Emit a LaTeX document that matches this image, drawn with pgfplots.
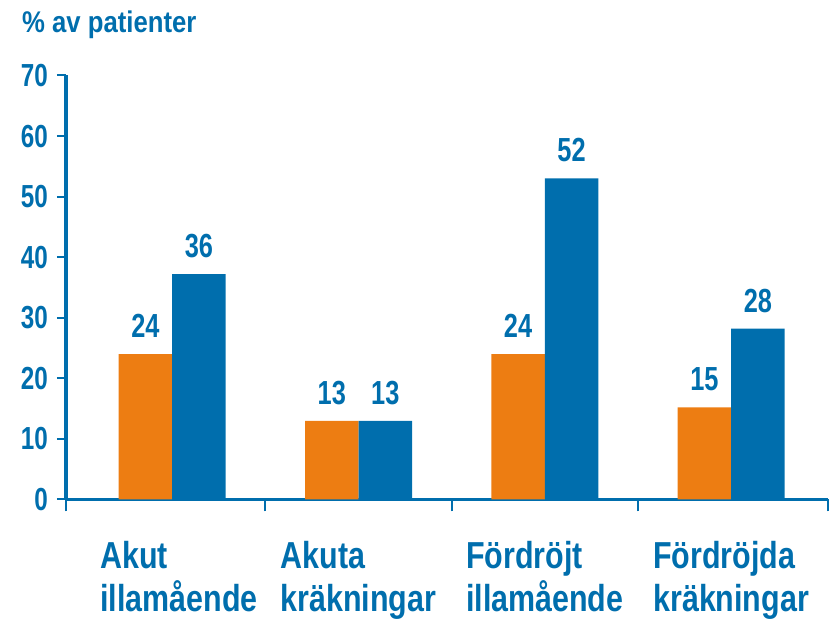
\documentclass[border=0pt]{standalone}
\usepackage{fontspec}
\setmainfont{Liberation Sans}
\newfontfamily\numfont[FakeStretch=0.76]{Liberation Sans}
\newfontfamily\catfont[FakeStretch=0.81]{Liberation Sans}
\newfontfamily\titfont[FakeStretch=0.86]{Liberation Sans}
\usepackage{pgfplots}
\pgfplotsset{compat=1.18}
\definecolor{cblue}{RGB}{0,110,173}
\definecolor{corange}{RGB}{237,125,18}
\begin{document}
\begin{tikzpicture}
\begin{axis}[
  ybar=0pt, bar width=53.5bp,
  scale only axis, width=762bp, height=424bp,
  xmin=-0.57, xmax=3.52, ymin=0, ymax=70,
  axis lines*=left,
  axis line style={cblue, line width=3.5bp},
  every tick/.style={cblue, line width=2bp},
  tick align=outside,
  major tick length=9bp,
  minor tick length=12bp,
  ytick={0,10,20,30,40,50,60,70},
  yticklabels={0,10,20,30,40,50,60,70},
  xtick={0.037,1,2,3},
  xticklabels={{Akut\\illamående},{Akuta\\kräkningar},{Fördröjt\\illamående},{Fördröjda\\kräkningar}},
  major x tick style={draw=none},
  minor xtick={-0.57,0.5,1.5,2.5,3.52},
  yticklabel style={font=\numfont\bfseries\fontsize{32}{38}\selectfont, text=cblue, anchor=east, inner sep=0pt, xshift=-9bp},
  xticklabel style={font=\catfont\bfseries\fontsize{37.7}{43}\selectfont, text=cblue, anchor=north, align=left, inner sep=0pt, yshift=-33bp},
  nodes near coords,
  point meta=explicit symbolic,
  every node near coord/.append style={font=\numfont\bfseries\fontsize{33.5}{40}\selectfont, text=cblue, inner sep=0pt, anchor=south, yshift=16bp},
  clip=false,
]
\addplot[fill=corange, draw=none] coordinates {(0,24) [24] (1,13) [13] (2,24) [24] (3,15.2) [15]};
\addplot[fill=cblue, draw=none] coordinates {(0,37.2) [36] (1,13) [13] (2,53) [52] (3,28.2) [28]};
\coordinate (bl) at (rel axis cs:0,0);
\coordinate (tr) at (rel axis cs:1,1);
\coordinate (tl) at (rel axis cs:0,1);
\end{axis}
\node[anchor=base west, inner sep=0pt, font=\titfont\bfseries\fontsize{30}{36}\selectfont, text=cblue] at ([xshift=-44bp, yshift=42.5bp]tl) {\% av patienter};
\pgfresetboundingbox
\path[use as bounding box] ([xshift=-66bp, yshift=-123.5bp]bl) rectangle ([xshift=1bp, yshift=75.5bp]tr);
\end{tikzpicture}
\end{document}
